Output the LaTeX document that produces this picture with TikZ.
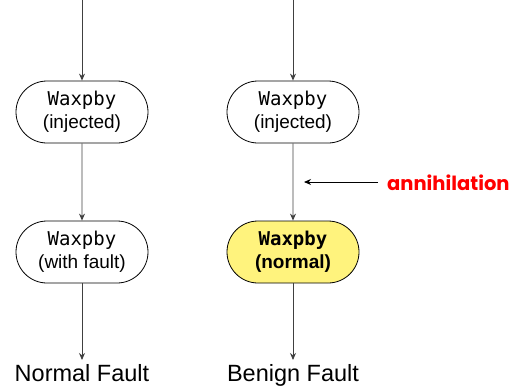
\documentclass[tikz,border=0pt]{standalone}
\usepackage{fontspec}
\setmainfont{Liberation Sans}
\setmonofont{DejaVu Sans Mono}
\newfontfamily\notefont{Poppins}
\usetikzlibrary{shapes.misc,arrows.meta}

\definecolor{softyellow}{RGB}{255,243,125}
\definecolor{notered}{RGB}{255,0,0}

\begin{document}
\begin{tikzpicture}[x=1pt,y=-1pt,
  fn/.style={rounded rectangle,draw=black,line width=0.8pt,minimum width=136pt,
    minimum height=62pt,inner sep=2pt,align=center,font=\fontsize{19}{23}\selectfont},
  flow/.style={draw=black!75,line width=0.9pt,-{Stealth[length=7pt,width=6pt]}},
  outlbl/.style={font=\fontsize{23.5}{27}\selectfont,inner sep=0pt}]
\useasboundingbox (0,0) rectangle (523,389);
% left column
\coordinate (ltop) at (82,0);
\node[fn] (linj) at (82,112) {\texttt{Waxpby}\\(injected)};
\node[fn] (lflt) at (82,252) {\texttt{Waxpby}\\(with fault)};
\coordinate (lend) at (82,360);
\node[outlbl,anchor=north] (lres) at (82,364) {Normal Fault};
\draw[flow] (ltop) -- (linj);
\draw[flow] (linj) -- (lflt);
\draw[flow] (lflt) -- (lend);
% right column
\coordinate (rtop) at (293,0);
\node[fn] (rinj) at (293,112) {\texttt{Waxpby}\\(injected)};
\node[fn,fill=softyellow,font=\fontsize{19}{23}\selectfont\bfseries] (rnrm) at (293,252) {\texttt{Waxpby}\\(normal)};
\coordinate (rend) at (293,360);
\node[outlbl,anchor=north] (rres) at (293,364) {Benign Fault};
\draw[flow] (rtop) -- (rinj);
\draw[flow] (rinj) -- (rnrm);
\draw[flow] (rnrm) -- (rend);
% annihilation note
\node[anchor=west,inner sep=0pt,text=notered,font=\notefont\fontsize{19.5}{22}\selectfont\bfseries] (anni) at (387,183) {annihilation};
\coordinate (annifrom) at (378,182);
\coordinate (annitip) at (304,182);
\draw[draw=black,line width=0.9pt,-{Stealth[length=7pt,width=6pt]}] (annifrom) -- (annitip);
\end{tikzpicture}
\end{document}
